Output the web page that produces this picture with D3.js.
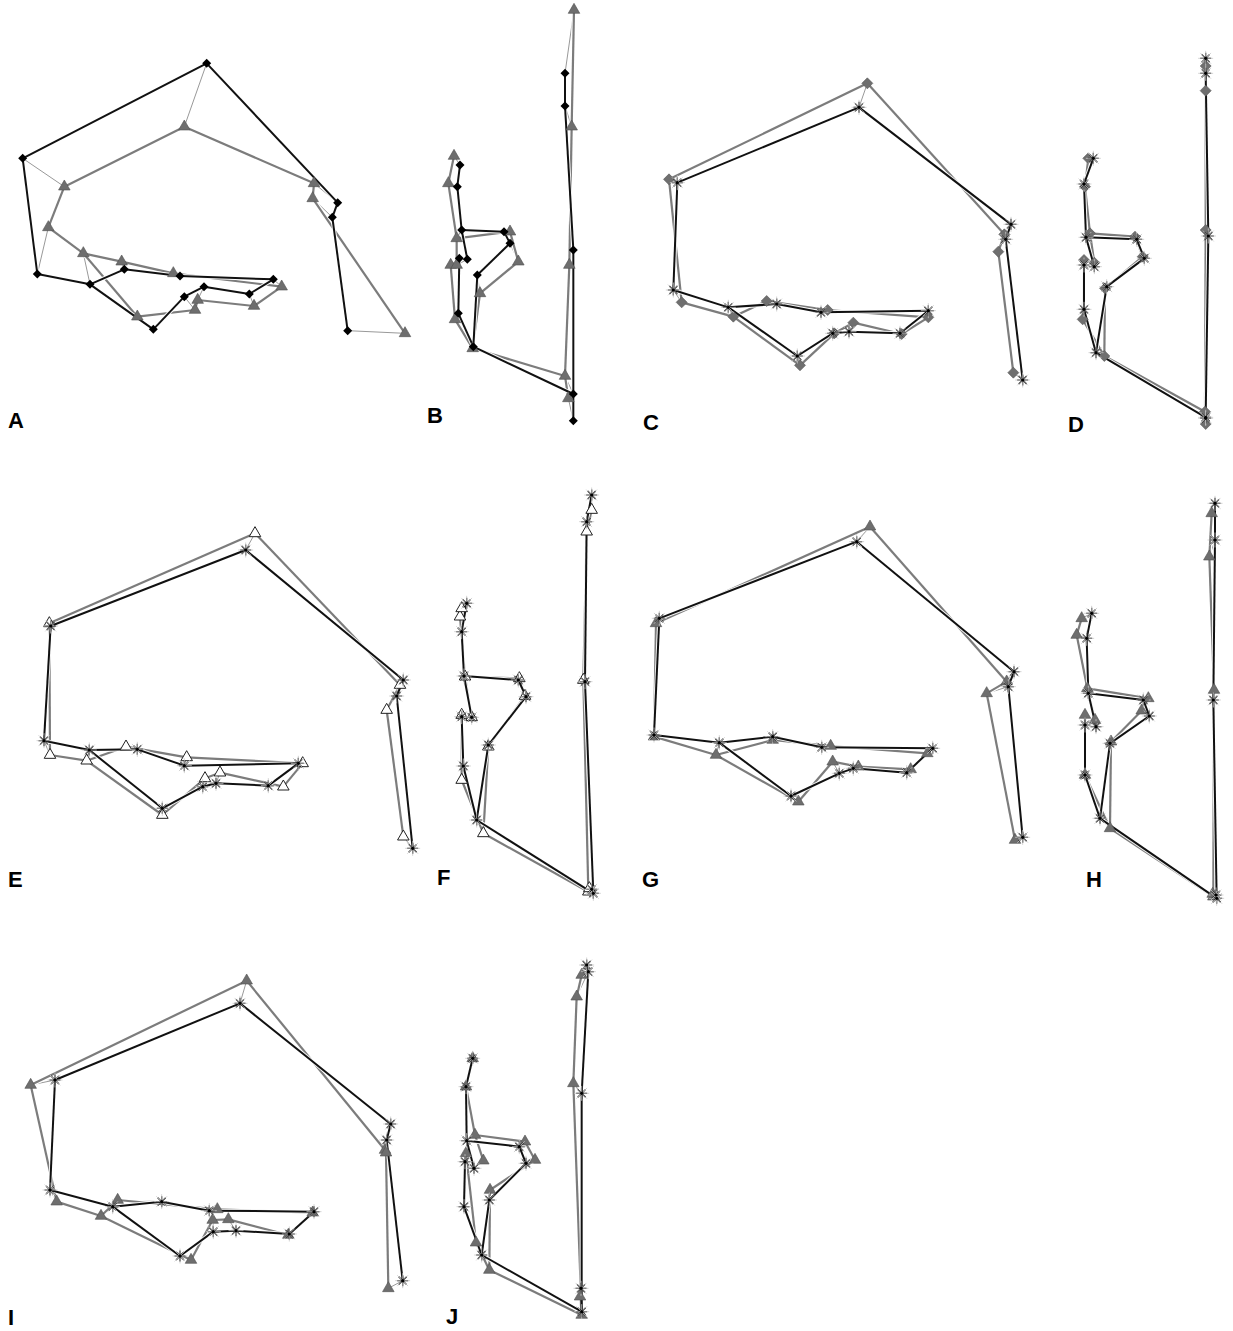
<!DOCTYPE html>
<html>
<head>
<meta charset="utf-8">
<script src="https://cdn.jsdelivr.net/npm/d3@7"></script>
<style>
  body { margin: 0; background: #fff; }
</style>
</head>
<body>
<div id="fig"></div>
<script>
// wireframe links between landmarks (0-based)
const lateralLinks = [[0,1],[1,2],[2,3],[3,4],[4,5],[5,6],[6,7],[7,8],[8,9],[9,10],[10,3],[0,11],[11,12],[12,13]];
const frontalLinks = [[0,1],[1,2],[2,3],[3,4],[4,5],[5,6],[4,7],[7,8],[8,9],[9,10],[10,11],[11,12],[10,13],[3,14]];

// landmark coordinates per panel (units = 1/3 px from panel corner)
const aBlack = [[620,130],[68,415],[112,762],[270,793],[373,748],[540,768],[820,778],[748,822],[612,800],[553,830],[460,928],[1013,548],[997,592],[1043,932]];
const aGray  = [[553,320],[193,500],[145,622],[250,700],[365,725],[520,760],[845,800],[762,858],[593,840],[585,870],[412,890],[942,490],[938,535],[1215,940]];

const bBlack = [[405,220],[405,318],[430,750],[430,1182],[130,1040],[85,940],[88,775],[142,825],[240,730],[222,695],[95,690],[82,560],[90,495],[112,778],[430,1262]];
const bGray  = [[432,30],[425,380],[418,795],[405,1128],[128,1045],[75,958],[62,795],[150,880],[265,785],[240,695],[80,715],[55,550],[72,468],[80,795],[415,1195]];

const cBlack = [[627,112],[82,338],[70,660],[235,712],[380,702],[513,727],[835,722],[750,790],[597,785],[548,790],[442,858],[1083,463],[1067,508],[1118,930]];
const cGray  = [[652,40],[57,328],[95,697],[250,740],[350,693],[533,720],[835,742],[755,792],[610,758],[553,790],[450,886],[1063,493],[1045,545],[1090,908]];

const dBlack = [[437,55],[437,100],[445,588],[437,1132],[108,938],[72,808],[72,675],[140,740],[253,655],[230,598],[78,592],[72,432],[100,355],[103,680],[437,1135]];
const dGray  = [[437,78],[437,152],[437,570],[435,1115],[133,948],[68,838],[72,660],[135,745],[248,650],[225,590],[90,580],[75,440],[85,355],[103,668],[437,1152]];

const eBlack = [[677,90],[92,318],[72,662],[208,690],[352,688],[493,737],[835,730],[745,797],[588,790],[548,800],[427,865],[1150,480],[1130,528],[1178,985]];
const eGray  = [[705,40],[88,310],[90,705],[200,722],[318,680],[500,712],[848,730],[790,800],[600,758],[555,775],[427,885],[1140,495],[1100,570],[1150,950]];

const fBlack = [[455,45],[440,125],[435,605],[460,1240],[110,1020],[70,858],[65,710],[145,795],[258,650],[235,600],[72,588],[65,455],[80,370],[95,712],[455,1228]];
const fGray  = [[455,90],[440,155],[430,600],[445,1235],[130,1060],[65,900],[65,705],[145,800],[255,648],[238,595],[75,590],[60,410],[65,385],[95,712],[448,1225]];

const gBlack = [[650,95],[58,325],[42,675],[238,698],[398,680],[545,712],[878,715],[800,788],[640,775],[598,790],[453,858],[1122,485],[1105,530],[1148,982]];
const gGray  = [[690,50],[48,340],[42,680],[228,735],[398,690],[572,708],[862,730],[812,778],[655,770],[578,755],[475,875],[1100,515],[1040,550],[1125,990]];

const hBlack = [[465,40],[465,150],[460,630],[470,1225],[120,985],[75,855],[75,705],[150,760],[268,678],[250,630],[85,610],[80,445],[95,370],[108,710],[468,1215]];
const hGray  = [[455,70],[448,200],[462,600],[460,1220],[150,1015],[75,855],[75,675],[153,755],[245,662],[265,625],[82,595],[50,435],[65,385],[105,690],[458,1212]];

const iBlack = [[660,100],[105,330],[90,660],[278,710],[425,695],[568,722],[882,725],[808,792],[648,782],[580,785],[480,858],[1112,462],[1100,510],[1148,932]];
const iGray  = [[680,32],[32,345],[110,695],[243,738],[293,690],[592,718],[878,728],[805,795],[625,748],[578,750],[513,870],[1095,540],[1098,548],[1105,955]];

const jBlack = [[410,45],[415,65],[395,430],[395,1085],[95,915],[42,770],[45,635],[118,750],[228,640],[208,590],[50,572],[48,410],[68,325],[72,655],[393,1015]];
const jGray  = [[395,75],[380,140],[370,400],[395,1095],[118,960],[78,878],[48,610],[120,720],[255,630],[225,575],[75,555],[48,410],[68,325],[100,632],[390,1040]];

const panelLabels = ["A","B","C","D","E","F","G","H","I","J"];

const W = 1233, H = 1331;
const svg = d3.select("#fig").append("svg")
  .attr("width", W)
  .attr("height", H);

// panel frames and label spots
const panels = [
  { ox: 0,    oy: 20,  w: 430, h: 330, links: lateralLinks, black: aBlack, gray: aGray, bm: "diamondK", gm: "triG",     lx: 8,    ly: 428 },
  { ox: 430,  oy: 0,   w: 170, h: 430, links: frontalLinks, black: bBlack, gray: bGray, bm: "diamondK", gm: "triG",     lx: 427,  ly: 423 },
  { ox: 650,  oy: 70,  w: 390, h: 320, links: lateralLinks, black: cBlack, gray: cGray, bm: "star",     gm: "diamondG", lx: 643,  ly: 430 },
  { ox: 1060, oy: 40,  w: 170, h: 400, links: frontalLinks, black: dBlack, gray: dGray, bm: "star",     gm: "diamondG", lx: 1068, ly: 432 },
  { ox: 20,   oy: 520, w: 410, h: 340, links: lateralLinks, black: eBlack, gray: eGray, bm: "star",     gm: "triW",     lx: 8,    ly: 887 },
  { ox: 440,  oy: 480, w: 170, h: 410, links: frontalLinks, black: fBlack, gray: fGray, bm: "star",     gm: "triW",     lx: 437,  ly: 885 },
  { ox: 640,  oy: 510, w: 400, h: 340, links: lateralLinks, black: gBlack, gray: gGray, bm: "star",     gm: "triG",     lx: 642,  ly: 887 },
  { ox: 1060, oy: 490, w: 170, h: 410, links: frontalLinks, black: hBlack, gray: hGray, bm: "star",     gm: "triG",     lx: 1086, ly: 887 },
  { ox: 20,   oy: 970, w: 400, h: 330, links: lateralLinks, black: iBlack, gray: iGray, bm: "star",     gm: "triG",     lx: 8,    ly: 1325 },
  { ox: 450,  oy: 950, w: 160, h: 390, links: frontalLinks, black: jBlack, gray: jGray, bm: "star",     gm: "triG",     lx: 446,  ly: 1324 }
];

const triPath = d3.symbol().type(d3.symbolTriangle).size(58)();

function diamondPath(r) {
  return `M0,${-r}L${r},0L0,${r}L${-r},0Z`;
}

function starPath(r) {
  const d = r * 0.72;
  return `M${-r},0L${r},0M0,${-r}L0,${r}M${-d},${-d}L${d},${d}M${-d},${d}L${d},${-d}`;
}

function drawMarkers(g, pts, kind, x, y) {
  const sel = g.selectAll(null).data(pts).enter().append("path")
    .attr("transform", d => `translate(${x(d[0])},${y(d[1])})`);
  if (kind === "diamondK") {
    sel.attr("d", diamondPath(4.5)).attr("fill", "#000");
  } else if (kind === "diamondG") {
    sel.attr("d", diamondPath(5.5)).attr("fill", "#6f6f6f").attr("stroke", "#555").attr("stroke-width", 0.6);
  } else if (kind === "triG") {
    sel.attr("d", triPath).attr("fill", "#6e6e6e").attr("stroke", "#505050").attr("stroke-width", 0.6);
  } else if (kind === "triW") {
    sel.attr("d", triPath).attr("fill", "#fff").attr("stroke", "#222").attr("stroke-width", 1);
  } else {
    // asterisk: faint outer spokes, black inner spokes and dot
    g.selectAll(null).data(pts).enter().append("path")
      .attr("transform", d => `translate(${x(d[0])},${y(d[1])})`)
      .attr("d", starPath(7.5))
      .attr("stroke", "#c8c8c8")
      .attr("stroke-width", 0.8)
      .attr("fill", "none");
    sel.attr("d", starPath(5.5))
      .attr("stroke", "#000")
      .attr("stroke-width", 1.2)
      .attr("fill", "none");
    g.selectAll(null).data(pts).enter().append("circle")
      .attr("cx", d => x(d[0]))
      .attr("cy", d => y(d[1]))
      .attr("r", 1.6)
      .attr("fill", "#000");
  }
}

panels.forEach((p, k) => {
  const x = d3.scaleLinear().domain([0, p.w * 3]).range([p.ox, p.ox + p.w]);
  const y = d3.scaleLinear().domain([0, p.h * 3]).range([p.oy, p.oy + p.h]);
  const g = svg.append("g").attr("class", "panel-" + panelLabels[k]);

  const seg = (pts) => p.links.map(l => [pts[l[0]], pts[l[1]]]);
  const line = d3.line().x(d => x(d[0])).y(d => y(d[1]));

  // thin displacement lines between matching landmarks
  g.selectAll(null)
    .data(p.black.map((d, i) => [d, p.gray[i]]))
    .enter().append("path")
    .attr("d", line)
    .attr("stroke", "#999")
    .attr("stroke-width", 1)
    .attr("fill", "none");

  // gray shape wireframe
  g.selectAll(null).data(seg(p.gray)).enter().append("path")
    .attr("d", line).attr("stroke", "#fff").attr("stroke-width", 4.5).attr("fill", "none");
  g.selectAll(null).data(seg(p.gray)).enter().append("path")
    .attr("d", line).attr("stroke", "#7c7c7c").attr("stroke-width", 2.2).attr("fill", "none");

  // black shape wireframe
  g.selectAll(null).data(seg(p.black)).enter().append("path")
    .attr("d", line).attr("stroke", "#fff").attr("stroke-width", 4).attr("fill", "none")
    .attr("stroke-opacity", 0.9);
  g.selectAll(null).data(seg(p.black)).enter().append("path")
    .attr("d", line).attr("stroke", "#111").attr("stroke-width", 2).attr("fill", "none");

  drawMarkers(g, p.gray, p.gm, x, y);
  drawMarkers(g, p.black, p.bm, x, y);

  svg.append("text")
    .attr("x", p.lx)
    .attr("y", p.ly)
    .attr("font-family", "Liberation Sans, Arial, sans-serif")
    .attr("font-weight", "bold")
    .attr("font-size", 22)
    .attr("fill", "#000")
    .text(panelLabels[k]);
});
</script>
</body>
</html>
